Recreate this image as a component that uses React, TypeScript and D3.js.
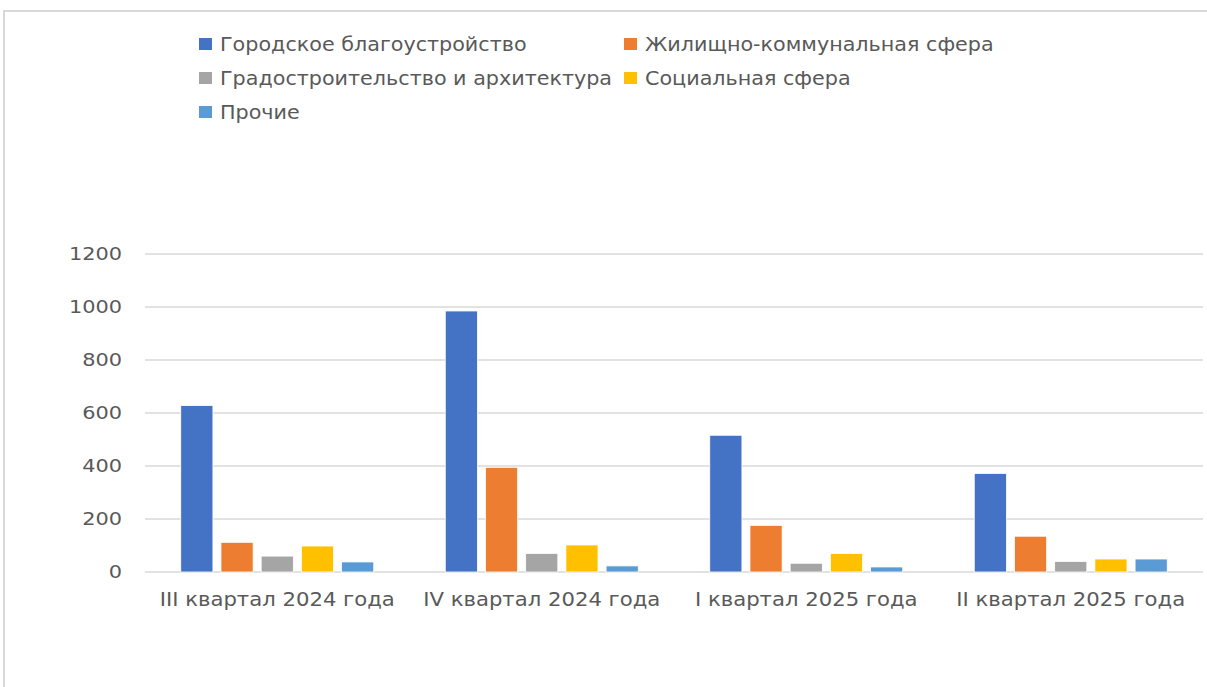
import { useEffect, useRef } from "react";
import * as d3 from "d3";

const categories = [
  "III квартал 2024 года",
  "IV квартал 2024 года",
  "I квартал 2025 года",
  "II квартал 2025 года",
];

const seriesNames = [
  "Городское благоустройство",
  "Жилищно-коммунальная сфера",
  "Градостроительство и архитектура",
  "Социальная сфера",
  "Прочие",
];

const seriesColors = ["#4472c4", "#ed7d31", "#a5a5a5", "#ffc000", "#5b9bd5"];

// values per series, in category order
const blagoustroystvo = [628, 985, 516, 372];
const zhkh = [112, 395, 176, 135];
const gradostroitelstvo = [60, 70, 33, 40];
const socialnaya = [98, 102, 70, 49];
const prochie = [38, 23, 19, 49];

const seriesValues = [blagoustroystvo, zhkh, gradostroitelstvo, socialnaya, prochie];

const yTicks = [0, 200, 400, 600, 800, 1000, 1200];

const FONT = "'DejaVu Sans', sans-serif";

export default function App() {
  const ref = useRef<SVGSVGElement | null>(null);

  useEffect(() => {
    if (!ref.current) return;
    const W = 1207;
    const H = 687;
    const svg = d3.select(ref.current);
    svg.selectAll("*").remove();
    svg.attr("width", W).attr("height", H);

    // chart frame (runs off right/bottom edge)
    svg
      .append("rect")
      .attr("x", 4)
      .attr("y", 11)
      .attr("width", W + 20)
      .attr("height", H + 20)
      .attr("fill", "#fff")
      .attr("stroke", "#d9d9d9")
      .attr("stroke-width", 2);

    const plot = { left: 145, right: 1203, top: 254, bottom: 572 };

    const y = d3.scaleLinear().domain([0, 1200]).range([plot.bottom, plot.top]);
    const x0 = d3
      .scaleBand<string>()
      .domain(categories)
      .range([plot.left, plot.right]);
    const groupW = x0.bandwidth() * 0.76;
    const x1 = d3
      .scaleBand<string>()
      .domain(seriesNames)
      .range([0, groupW])
      .paddingInner(0.2)
      .paddingOuter(0.1);

    // gridlines
    svg
      .append("g")
      .selectAll("line")
      .data(yTicks)
      .join("line")
      .attr("x1", plot.left)
      .attr("x2", plot.right)
      .attr("y1", (d) => y(d))
      .attr("y2", (d) => y(d))
      .attr("stroke", "#d9d9d9")
      .attr("stroke-width", 1.5);

    // y tick labels (slightly stretched, like the source)
    svg
      .append("g")
      .selectAll("text")
      .data(yTicks)
      .join("text")
      .attr("transform", (d) => `translate(122,${y(d)}) scale(1.16,1)`)
      .attr("dy", "0.36em")
      .attr("text-anchor", "end")
      .attr("font-family", FONT)
      .attr("font-size", 18)
      .attr("fill", "#595959")
      .text((d) => String(d));

    // bars
    const groups = svg
      .append("g")
      .selectAll("g")
      .data(categories)
      .join("g")
      .attr(
        "transform",
        (c) => `translate(${x0(c)! + (x0.bandwidth() - groupW) / 2},0)`
      );

    groups
      .selectAll("rect")
      .data((c) => {
        const ci = categories.indexOf(c);
        return seriesNames.map((s, si) => ({ s, si, v: seriesValues[si][ci] }));
      })
      .join("rect")
      .attr("x", (d) => x1(d.s)!)
      .attr("width", x1.bandwidth())
      .attr("y", (d) => y(d.v))
      .attr("height", (d) => y(0) - y(d.v))
      .attr("fill", (d) => seriesColors[d.si])
      .attr("stroke", "#fff")
      .attr("stroke-width", 0.8);

    // category labels
    svg
      .append("g")
      .selectAll("text")
      .data(categories)
      .join("text")
      .attr(
        "transform",
        (c) => `translate(${x0(c)! + x0.bandwidth() / 2},606) scale(1.06,1)`
      )
      .attr("text-anchor", "middle")
      .attr("font-family", FONT)
      .attr("font-size", 20)
      .attr("fill", "#595959")
      .text((c) => c);

    // legend
    const legendPos = [
      [199, 44],
      [624, 44],
      [199, 78],
      [624, 78],
      [199, 112],
    ];
    const lg = svg
      .append("g")
      .selectAll("g")
      .data(seriesNames)
      .join("g")
      .attr("transform", (_, i) => `translate(${legendPos[i][0]},${legendPos[i][1]})`);
    lg.append("rect")
      .attr("x", 0)
      .attr("y", -6)
      .attr("width", 13)
      .attr("height", 12)
      .attr("fill", (_, i) => seriesColors[i]);
    lg.append("text")
      .attr("transform", "translate(21,7) scale(1.035,1)")
      .attr("font-family", FONT)
      .attr("font-size", 20)
      .attr("fill", "#595959")
      .text((d) => d);
  }, []);

  return (
    <svg
      ref={ref}
      style={{ position: "absolute", left: 0, top: 0, display: "block" }}
    />
  );
}
